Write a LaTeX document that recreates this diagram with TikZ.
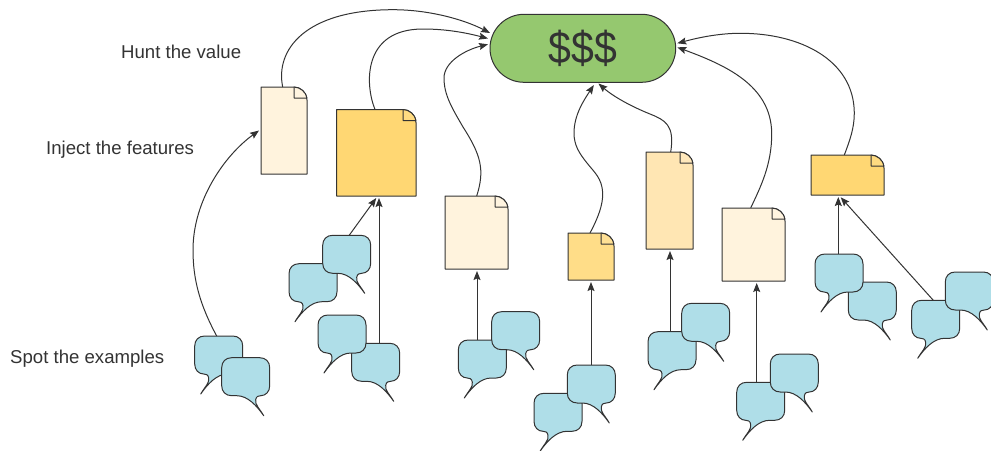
\documentclass[tikz,border=0pt]{standalone}
\usepackage{fontspec}
\setmainfont{Liberation Sans}
\usetikzlibrary{arrows.meta}
\definecolor{ink}{HTML}{333333}
\definecolor{bubblefill}{HTML}{AFDEE8}
\definecolor{paleDoc}{HTML}{FFF3DD}
\definecolor{midDoc}{HTML}{FFE6B3}
\definecolor{warmDoc}{HTML}{FFDD88}
\definecolor{richDoc}{HTML}{FFD773}
\definecolor{pillfill}{HTML}{95C86F}
\tikzset{
  outline/.style={draw=ink,line width=1pt,line join=round},
  anchorbox/.style={inner sep=0pt,outer sep=0pt,anchor=north west},
  link/.style={draw=ink,line width=1pt,-{Stealth[length=9pt,width=7pt,inset=1.5pt]}},
  caption/.style={inner sep=0pt,anchor=west,text=ink,font=\fontsize{18.6}{22}\selectfont},
}
\newcommand{\speechshape}{%
  (10,0) -- (38,0) .. controls (44,0) and (48,4) .. (48,10) -- (48,28)
  .. controls (48,34) and (44,38) .. (38,38) -- (33,38)
  .. controls (22,38) and (13,48) .. (6,58)
  .. controls (10,51) and (15,47) .. (14,42)
  .. controls (13.5,38.5) and (11,38) .. (9,38)
  .. controls (4,38) and (0,34) .. (0,28) -- (0,10)
  .. controls (0,4) and (4,0) .. (10,0) -- cycle}
\newcommand{\speechL}[3]{%
  \node[anchorbox,minimum width=48pt,minimum height=38pt] (#1) at (#2,#3) {};
  \path[outline,fill=bubblefill,shift={(#2,#3)}] \speechshape;}
\newcommand{\speechR}[3]{%
  \node[anchorbox,minimum width=48pt,minimum height=38pt] (#1) at (#2,#3) {};
  \path[outline,fill=bubblefill,shift={(#2+48,#3)},xscale=-1] \speechshape;}
\newcommand{\docpage}[6]{%
  \path[outline,fill=#6] (#2,#3) -- (#4-13,#3) .. controls (#4-6,#3) and (#4,#3+6) .. (#4,#3+13)
    -- (#4,#5) -- (#2,#5) -- cycle;
  \path[outline,fill=#6!90!white] (#4-13,#3) .. controls (#4-7,#3) and (#4-1,#3+5) .. (#4,#3+11)
    -- (#4-13,#3+11) -- cycle;
  \node[inner sep=0pt,outer sep=0pt,minimum width=#4pt-#2pt,minimum height=#5pt-#3pt] (#1) at ({(#2+#4)/2},{(#3+#5)/2}) {};}
\begin{document}
\begin{tikzpicture}[x=1pt,y=-1pt]
\useasboundingbox (0,0) rectangle (991,450);
% captions
\node[caption] (hunt) at (121,52) {Hunt the value};
\node[caption] (inject) at (46,150) {Inject the features};
\node[caption] (spot) at (10,359) {Spot the examples};
% value pill
\node[outline,fill=pillfill,rounded corners=34pt,minimum width=185.7pt,minimum height=68pt,inner sep=0pt,outer sep=0pt,
  text=ink,font=\fontsize{41}{44}\selectfont] (value) at (582.85,48.3) {\scalebox{1}[1.1]{\$\$\$}};
% documents
\docpage{d1}{261}{87}{307}{174}{paleDoc}
\docpage{d2}{336.5}{109.5}{416}{196}{richDoc}
\docpage{d3}{445}{196}{508}{269}{paleDoc}
\docpage{d4}{568}{233}{614}{280}{warmDoc}
\docpage{d5}{646}{152}{693}{249}{midDoc}
\docpage{d6}{722}{208}{785}{281}{paleDoc}
\docpage{d7}{811}{155}{884}{195}{richDoc}
% bubbles
\speechL{a1}{194.7}{336}\speechR{a2}{221.7}{357.7}
\speechL{b1}{289}{263.7}\speechR{b2}{322.7}{235.3}
\speechR{c2}{351.7}{343.3}\speechL{c1}{318}{315}
\speechL{e1}{458.3}{340}\speechR{e2}{491.7}{311.7}
\speechL{f1}{534}{393.3}\speechR{f2}{567.3}{365}
\speechL{g1}{648}{331.7}\speechR{g2}{681.7}{303.3}
\speechL{h1}{736.7}{382.3}\speechR{h2}{770.3}{354}
\speechR{i2}{848.3}{282}\speechL{i1}{815}{254}
\speechL{j1}{911.7}{300.3}\speechR{j2}{945.3}{272}
% connectors to documents
\draw[link] ([xshift=-2pt]a1.north) .. controls (200,305) and (193,280) .. (193,250)
  .. controls (193,200) and (225,155) .. ([xshift=-2pt]d1.west);
\draw[link] ([xshift=2.5pt]b2.north) -- ([yshift=-2pt]d2.south);
\draw[link] ([xshift=3.3pt]c2.north) -- ([xshift=2.75pt,yshift=-2pt]d2.south);
\draw[link] ([xshift=-5.3pt]e1.north) -- ([xshift=0.5pt,yshift=-2pt]d3.south);
\draw[link] ([xshift=-0.3pt]f2.north) -- ([yshift=-2pt]d4.south);
\draw[link] ([xshift=-2pt]g1.north) -- ([xshift=0.5pt,yshift=-2pt]d5.south);
\draw[link] ([xshift=-4pt]h1.north) -- ([xshift=3.2pt,yshift=-2pt]d6.south);
\draw[link] ([xshift=-0.7pt]i1.north) -- ([xshift=-9.2pt,yshift=-2pt]d7.south);
\draw[link] ([xshift=-2.4pt]j1.north) -- ([xshift=-6.8pt,yshift=-2.3pt]d7.south);
% connectors to value
\draw[link] ([xshift=-1.3pt]d1.north) .. controls (275,50) and (305,9.7) .. (393,9.7)
  .. controls (430,9.7) and (465,20) .. ([yshift=15.3pt]value.west);
\draw[link] ([xshift=-1.25pt]d2.north) .. controls (365,85) and (362,29) .. (423,29)
  .. controls (447,29) and (467,33) .. ([xshift=-2pt,yshift=9.8pt]value.west);
\draw[link] ([xshift=0.2pt]d3.north) .. controls (485,170) and (481,155) .. (463,127)
  .. controls (452,108) and (444,95) .. (444,78)
  .. controls (444,62) and (465,50) .. ([xshift=-2pt,yshift=4pt]value.west);
\draw[link] ([xshift=-1pt]d4.north) .. controls (598,218) and (603,205) .. (602.7,193)
  .. controls (602,178) and (594,172) .. (587,163)
  .. controls (579,153) and (574,145) .. (574,133)
  .. controls (574,115) and (584,100) .. ([xshift=11pt,yshift=-2.7pt]value.south);
\draw[link] ([xshift=1.2pt]d5.north) .. controls (675,125) and (665,120) .. (650,114)
  .. controls (635,108) and (615,98) .. ([xshift=15.6pt,yshift=-1.2pt]value.south);
\draw[link] ([xshift=-2.8pt]d6.north) .. controls (760,188) and (772,165) .. (771.7,133)
  .. controls (771,85) and (725,65) .. ([xshift=1.6pt,yshift=1pt]value.east);
\draw[link] ([xshift=-3.2pt]d7.north) .. controls (850,140) and (854.3,128) .. (854.3,113)
  .. controls (854,60) and (800,33) .. (740,33.3)
  .. controls (718,33.3) and (697,38) .. ([xshift=1.6pt,yshift=5pt]value.east);
\end{tikzpicture}
\end{document}
